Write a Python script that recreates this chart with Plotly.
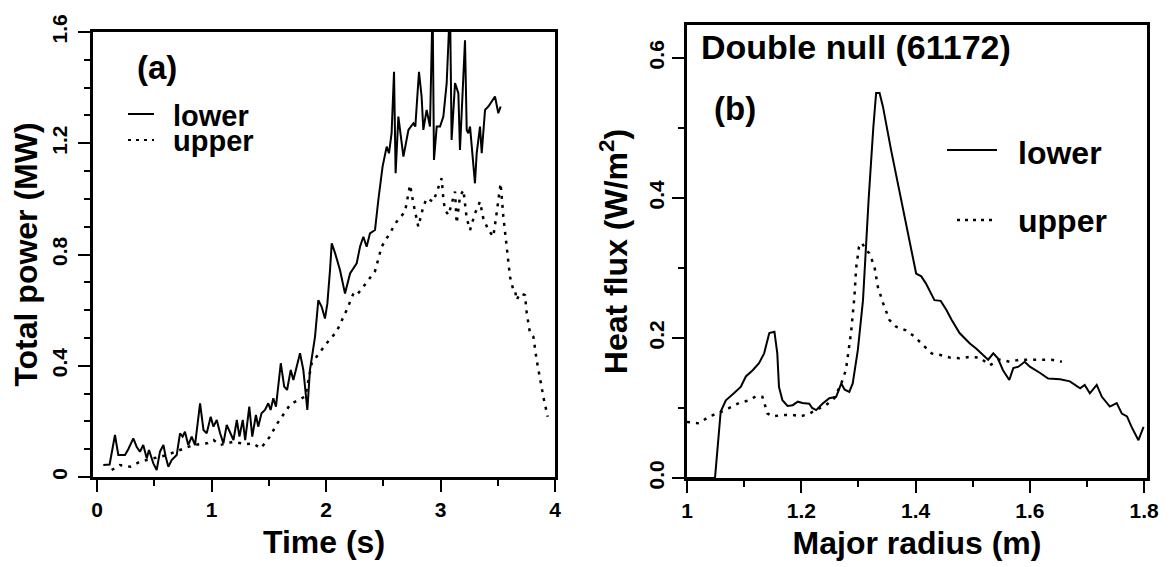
import plotly.graph_objects as go

# ---------------- data: panel (a) total power vs time ----------------
time_lower = [0.055, 0.11, 0.157, 0.186, 0.244, 0.273, 0.317, 0.346, 0.375, 0.404,
              0.434, 0.454, 0.492, 0.521, 0.55, 0.58, 0.60, 0.623, 0.652, 0.696,
              0.725, 0.748, 0.768, 0.797, 0.827, 0.856, 0.90, 0.93, 0.958, 0.993,
              1.017, 1.046, 1.075, 1.104, 1.133, 1.163, 1.192, 1.221, 1.244, 1.273,
              1.294, 1.33, 1.356, 1.388, 1.408, 1.437, 1.467, 1.496, 1.516, 1.54,
              1.563, 1.605, 1.635, 1.66, 1.692, 1.715, 1.744, 1.773, 1.802, 1.837,
              1.86, 1.904, 1.933, 1.962, 1.991, 2.012, 2.035, 2.05, 2.08, 2.122,
              2.166, 2.21, 2.268, 2.297, 2.326, 2.355, 2.384, 2.428, 2.457, 2.494,
              2.53, 2.55, 2.573, 2.594, 2.608, 2.632, 2.676, 2.72, 2.763, 2.78,
              2.812, 2.835, 2.85, 2.879, 2.908, 2.931, 2.943, 2.967, 2.996, 3.025,
              3.054, 3.083, 3.097, 3.127, 3.156, 3.17, 3.214, 3.229, 3.243, 3.258,
              3.301, 3.316, 3.345, 3.36, 3.389, 3.418, 3.476, 3.505, 3.525]
power_lower = [0.043, 0.045, 0.151, 0.079, 0.079, 0.10, 0.139, 0.109, 0.091, 0.115,
               0.067, 0.097, 0.049, 0.025, 0.091, 0.115, 0.073, 0.037, 0.061, 0.079,
               0.157, 0.145, 0.163, 0.115, 0.145, 0.115, 0.265, 0.169, 0.157, 0.217,
               0.181, 0.205, 0.157, 0.121, 0.187, 0.157, 0.133, 0.205, 0.145, 0.205,
               0.133, 0.253, 0.145, 0.223, 0.181, 0.229, 0.241, 0.265, 0.241, 0.283,
               0.253, 0.409, 0.325, 0.313, 0.385, 0.349, 0.397, 0.445, 0.385, 0.241,
               0.385, 0.504, 0.636, 0.612, 0.57, 0.624, 0.744, 0.84, 0.804, 0.744,
               0.66, 0.732, 0.768, 0.828, 0.864, 0.828, 0.876, 0.888, 0.996, 1.116,
               1.188, 1.164, 1.236, 1.457, 1.092, 1.296, 1.152, 1.248, 1.272, 1.26,
               1.457, 1.368, 1.248, 1.32, 1.26, 1.70, 1.14, 1.26, 1.26, 1.296,
               1.416, 1.70, 1.212, 1.416, 1.38, 1.176, 1.57, 1.248, 1.236, 1.26,
               1.056, 1.164, 1.26, 1.164, 1.32, 1.332, 1.368, 1.308, 1.332]

time_upper = [0.128, 0.2, 0.29, 0.375, 0.492, 0.61, 0.725, 0.84, 0.96, 1.017,
              1.075, 1.19, 1.30, 1.36, 1.43, 1.51, 1.57, 1.62, 1.69, 1.76,
              1.82, 1.875, 1.918, 2.006, 2.093, 2.18, 2.24, 2.268, 2.326, 2.428,
              2.486, 2.559, 2.617, 2.69, 2.734, 2.763, 2.806, 2.85, 2.879, 2.937,
              3.01, 3.025, 3.039, 3.07, 3.127, 3.141, 3.17, 3.2, 3.229, 3.258,
              3.301, 3.345, 3.374, 3.418, 3.461, 3.49, 3.525, 3.549, 3.572, 3.592,
              3.607, 3.636, 3.651, 3.665, 3.694, 3.738, 3.753, 3.782, 3.811, 3.84,
              3.869, 3.898, 3.936]
power_upper = [0.025, 0.043, 0.037, 0.055, 0.067, 0.079, 0.097, 0.115, 0.121, 0.133,
               0.115, 0.127, 0.118, 0.121, 0.103, 0.145, 0.19, 0.22, 0.262, 0.277,
               0.29, 0.409, 0.433, 0.481, 0.523, 0.60, 0.66, 0.654, 0.684, 0.74,
               0.828, 0.876, 0.918, 0.954, 1.05, 0.984, 0.90, 0.972, 1.002, 0.99,
               1.074, 1.0, 0.96, 0.942, 1.026, 0.912, 1.008, 1.032, 0.93, 0.888,
               0.948, 0.99, 0.93, 0.888, 0.864, 0.948, 1.056, 0.936, 0.852, 0.756,
               0.72, 0.672, 0.672, 0.636, 0.66, 0.654, 0.589, 0.517, 0.504, 0.42,
               0.349, 0.289, 0.217]

# ---------------- data: panel (b) heat flux vs major radius ----------------
radius_lower = [1.0, 1.049, 1.059, 1.068, 1.082, 1.094, 1.103, 1.115, 1.126, 1.135,
                1.144, 1.153, 1.158, 1.161, 1.167, 1.176, 1.185, 1.194, 1.202, 1.214,
                1.219, 1.226, 1.237, 1.249, 1.261, 1.27, 1.276, 1.284, 1.29, 1.299,
                1.308, 1.311, 1.318, 1.326, 1.331, 1.337, 1.343, 1.357, 1.375, 1.392,
                1.401, 1.41, 1.418, 1.433, 1.444, 1.454, 1.463, 1.477, 1.495, 1.506,
                1.518, 1.527, 1.536, 1.544, 1.553, 1.564, 1.571, 1.58, 1.591, 1.6,
                1.618, 1.632, 1.653, 1.67, 1.688, 1.696, 1.705, 1.717, 1.726, 1.74,
                1.752, 1.761, 1.77, 1.778, 1.79, 1.799]
flux_lower = [0.0, 0.0, 0.095, 0.111, 0.121, 0.13, 0.145, 0.154, 0.164, 0.178,
              0.207, 0.209, 0.178, 0.13, 0.111, 0.103, 0.104, 0.109, 0.107, 0.106,
              0.1, 0.097, 0.106, 0.114, 0.116, 0.135, 0.126, 0.123, 0.135, 0.183,
              0.254, 0.30, 0.40, 0.50, 0.55, 0.55, 0.53, 0.469, 0.397, 0.326,
              0.292, 0.288, 0.278, 0.254, 0.253, 0.24, 0.226, 0.207, 0.192, 0.185,
              0.176, 0.169, 0.178, 0.171, 0.154, 0.14, 0.157, 0.159, 0.166, 0.159,
              0.15, 0.142, 0.141, 0.138, 0.128, 0.133, 0.121, 0.133, 0.116, 0.102,
              0.107, 0.092, 0.088, 0.073, 0.054, 0.073]

radius_upper = [1.0, 1.021, 1.039, 1.056, 1.074, 1.091, 1.109, 1.121, 1.132, 1.141,
                1.15, 1.167, 1.185, 1.199, 1.214, 1.226, 1.243, 1.258, 1.27, 1.278,
                1.287, 1.293, 1.296, 1.301, 1.306, 1.313, 1.319, 1.328, 1.334, 1.343,
                1.354, 1.366, 1.383, 1.398, 1.416, 1.428, 1.442, 1.46, 1.477, 1.495,
                1.512, 1.53, 1.547, 1.565, 1.582, 1.6, 1.618, 1.638, 1.656]
flux_upper = [0.08, 0.078, 0.088, 0.093, 0.1, 0.107, 0.111, 0.117, 0.116, 0.092,
              0.088, 0.09, 0.09, 0.088, 0.092, 0.097, 0.104, 0.114, 0.135, 0.154,
              0.207, 0.259, 0.30, 0.33, 0.336, 0.326, 0.321, 0.302, 0.273, 0.25,
              0.226, 0.216, 0.211, 0.202, 0.188, 0.178, 0.176, 0.172, 0.171, 0.173,
              0.172, 0.161, 0.169, 0.166, 0.169, 0.169, 0.168, 0.169, 0.166]

series_names = ["lower", "upper"]
panel_labels = ["(a)", "(b)"]
panel_b_title = "Double null (61172)"

# ---------------- layout helpers ----------------
W, H = 1174, 567
FONT = "Liberation Sans, Arial, Helvetica, sans-serif"
DOTS = "3px,6px"


def fx(px):
    return px / W


def fy(py):
    return 1 - py / H


fig = go.Figure()

fig.add_trace(go.Scatter(x=time_lower, y=power_lower, mode="lines", name=series_names[0],
                         line=dict(color="black", width=2), xaxis="x", yaxis="y",
                         showlegend=False))
fig.add_trace(go.Scatter(x=time_upper, y=power_upper, mode="lines", name=series_names[1],
                         line=dict(color="black", width=2.5, dash=DOTS), xaxis="x", yaxis="y",
                         showlegend=False))
fig.add_trace(go.Scatter(x=radius_lower, y=flux_lower, mode="lines", name=series_names[0],
                         line=dict(color="black", width=2), xaxis="x2", yaxis="y2",
                         showlegend=False))
fig.add_trace(go.Scatter(x=radius_upper, y=flux_upper, mode="lines", name=series_names[1],
                         line=dict(color="black", width=2.5, dash=DOTS), xaxis="x2", yaxis="y2",
                         showlegend=False))

tickfont = dict(family=FONT, size=21, color="black", weight="bold")
titlefont = dict(family=FONT, size=32, color="black", weight="bold")

common = dict(showline=True, linecolor="black", linewidth=2.5, mirror=True,
              ticks="outside", ticklen=12, tickwidth=2, tickcolor="black",
              showgrid=False, zeroline=False, tickfont=tickfont, automargin=False)

minor_style = dict(ticklen=6, tickwidth=2, tickcolor="black", ticks="outside")

fig.update_layout(
    width=W, height=H,
    margin=dict(l=0, r=0, t=0, b=0),
    paper_bgcolor="white", plot_bgcolor="white",
    showlegend=False,
    xaxis=dict(domain=[fx(93), fx(555)], range=[-0.035, 4.0], anchor="y",
               tick0=0, dtick=1,
               minor=dict(dtick=0.5, **minor_style),
               title=dict(text="Time (s)", font=titlefont, standoff=11), **common),
    yaxis=dict(domain=[fy(477), fy(32)], range=[0, 1.6], anchor="x",
               tickvals=[0, 0.4, 0.8, 1.2, 1.6], ticktext=["0", "0.4", "0.8", "1.2", "1.6"],
               tickangle=-90, ticklabelstandoff=3,
               minor=dict(dtick=0.1, tick0=0, **minor_style),
               title=dict(text="Total power (MW)", font=titlefont, standoff=1), **common),
    xaxis2=dict(domain=[fx(687), fx(1147)], range=[1.0, 1.805], anchor="y2",
                tickvals=[1, 1.2, 1.4, 1.6, 1.8],
                ticktext=["1", "1.2", "1.4", "1.6", "1.8"],
                minor=dict(dtick=0.1, tick0=1.0, **minor_style),
                title=dict(text="Major radius (m)", font=titlefont, standoff=11), **common),
    yaxis2=dict(domain=[fy(478), fy(25)], range=[0, 0.647], anchor="x2",
                tick0=0, dtick=0.2, tickformat=".1f", tickangle=-90,
                minor=dict(dtick=0.1, tick0=0, **minor_style),
                title=dict(text="Heat flux (W/m<sup>2</sup>)", font=titlefont, standoff=8), **common),
)

annfont = dict(family=FONT, size=33, color="black", weight="bold")
titlefont_b = dict(family=FONT, size=34, color="black", weight="bold")
legfont_a = dict(family=FONT, size=29, color="black", weight="bold")
legfont_b = dict(family=FONT, size=32, color="black", weight="bold")

fig.add_annotation(xref="paper", yref="paper", x=fx(157), y=fy(67), text=panel_labels[0],
                   showarrow=False, font=annfont, xanchor="center", yanchor="middle")
fig.add_annotation(xref="paper", yref="paper", x=fx(735), y=fy(108), text=panel_labels[1],
                   showarrow=False, font=annfont, xanchor="center", yanchor="middle")
fig.add_annotation(xref="paper", yref="paper", x=fx(856), y=fy(47), text=panel_b_title,
                   showarrow=False, font=titlefont_b, xanchor="center", yanchor="middle")

# legend text
legend_items = [
    (fx(171), fy(116), series_names[0], legfont_a),
    (fx(171), fy(141), series_names[1], legfont_a),
    (fx(1016), fy(153), series_names[0], legfont_b),
    (fx(1016), fy(221), series_names[1], legfont_b),
]
for x, y, t, f in legend_items:
    fig.add_annotation(xref="paper", yref="paper", x=x, y=y, text=t, showarrow=False,
                       font=f, xanchor="left", yanchor="middle")

# legend line samples
fig.add_shape(type="line", xref="paper", yref="paper", x0=fx(128), x1=fx(154), y0=fy(114), y1=fy(114),
              line=dict(color="black", width=2))
fig.add_shape(type="line", xref="paper", yref="paper", x0=fx(128), x1=fx(154), y0=fy(140), y1=fy(140),
              line=dict(color="black", width=2, dash="3px,5px"))
fig.add_shape(type="line", xref="paper", yref="paper", x0=fx(947), x1=fx(997), y0=fy(150), y1=fy(150),
              line=dict(color="black", width=2))
fig.add_shape(type="line", xref="paper", yref="paper", x0=fx(957), x1=fx(997), y0=fy(220), y1=fy(220),
              line=dict(color="black", width=2.5, dash="3px,5px"))

fig.write_html(
    "out.html",
    config={"displayModeBar": False},
    post_script="document.body.style.margin='0';document.body.style.padding='0';"
                "document.documentElement.style.overflow='hidden';",
)
